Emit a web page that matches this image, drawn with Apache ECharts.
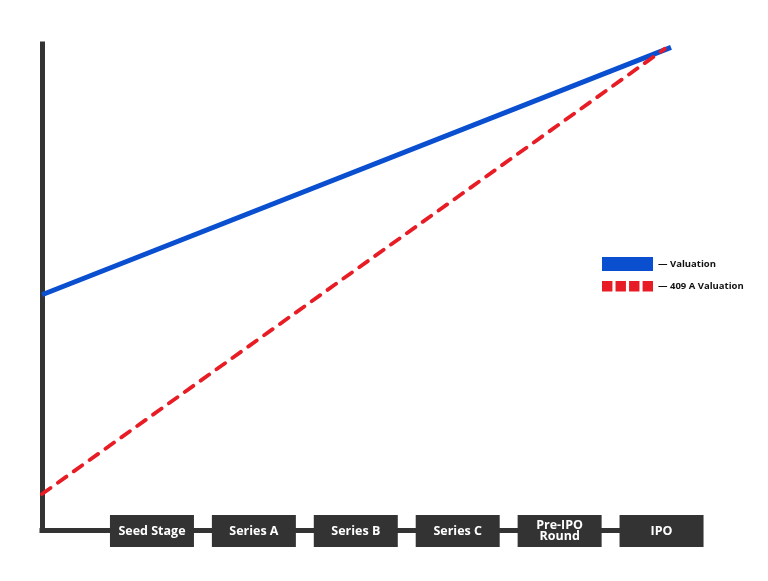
<!DOCTYPE html>
<html>
<head>
<meta charset="utf-8">
<script src="https://cdn.jsdelivr.net/npm/echarts@6/dist/echarts.min.js"></script>
<style>html,body{margin:0;padding:0;background:#fff;}#c{width:768px;height:581px;}</style>
</head>
<body>
<div id="c"></div>
<script>
const categories = ['Seed Stage', 'Series A', 'Series B', 'Series C', 'Pre-IPO\nRound', 'IPO'];
const seriesNames = ['Valuation', '409 A Valuation'];
const valuationX = [0, 100];
const valuationY = [48.4, 99.3];
const a409X = [0, 99];
const a409Y = [7.4, 99.0];

const chart = echarts.init(document.getElementById('c'), null, {renderer: 'canvas'});
const FONT = '"Open Sans", "DejaVu Sans", sans-serif';

chart.setOption({
  backgroundColor: '#ffffff',
  animation: false,
  grid: [
    {left: 42, right: 97, top: 44, bottom: 51},
    {left: 101, right: 55.5, top: 44, bottom: 51}
  ],
  legend: {
    orient: 'vertical', left: 597, top: 252, itemGap: 10,
    itemWidth: 51, itemHeight: 14,
    data: [
      {name: seriesNames[0], icon: 'rect'},
      {name: seriesNames[1], icon: 'path://M0,0h10v10h-10z M13,0h10v10h-10z M26,0h10v10h-10z M39,0h10v10h-10z'}
    ],
    formatter: function (n) { return '\u2014 ' + n; },
    textStyle: {fontFamily: FONT, fontWeight: 'bold', fontSize: 9.5, color: '#111'}
  },
  xAxis: [
    {type: 'value', gridIndex: 0, min: 0, max: 100, z: 0,
     axisLine: {show: true, lineStyle: {color: '#333333', width: 5, cap: 'square'}},
     axisTick: {show: false}, axisLabel: {show: false}, splitLine: {show: false}},
    {type: 'category', gridIndex: 1, data: categories, boundaryGap: true, z: 10,
     axisLine: {show: false}, axisTick: {show: false}, splitLine: {show: false},
     axisLabel: {
       interval: 0, margin: -15,
       backgroundColor: '#333333', width: 84, align: 'center',
       color: '#ffffff', fontFamily: FONT, fontWeight: 'bold', fontSize: 12.5, lineHeight: 32,
       formatter: function (v) {
         const parts = v.split('\n');
         if (parts.length === 1) return '{a|' + v + '}';
         return '{s| }\n{b|' + parts[0] + '}\n{b|' + parts[1] + '}\n{s| }';
       },
       rich: {
         a: {lineHeight: 32, width: 84, align: 'center'},
         b: {lineHeight: 11, width: 84, align: 'center'},
         s: {lineHeight: 5, fontSize: 4, width: 84}
       }
     }}
  ],
  yAxis: [
    {type: 'value', gridIndex: 0, min: 0, max: 100,
     axisLine: {show: true, lineStyle: {color: '#333333', width: 5, cap: 'square'}},
     axisTick: {show: false}, axisLabel: {show: false}, splitLine: {show: false}},
    {type: 'value', gridIndex: 1, min: 0, max: 100, show: false}
  ],
  series: [
    {name: seriesNames[0], type: 'line', xAxisIndex: 0, yAxisIndex: 0, clip: false,
     symbol: 'none', color: '#0a4fcf',
     lineStyle: {color: '#0a4fcf', width: 5},
     data: valuationX.map((x, i) => [x, valuationY[i]])},
    {name: seriesNames[1], type: 'line', xAxisIndex: 0, yAxisIndex: 0, clip: false,
     symbol: 'none', color: '#e81c24',
     lineStyle: {color: '#e81c24', width: 3.8, type: [10.5, 9], cap: 'round'},
     data: a409X.map((x, i) => [x, a409Y[i]])}
  ]
});
</script>
</body>
</html>
